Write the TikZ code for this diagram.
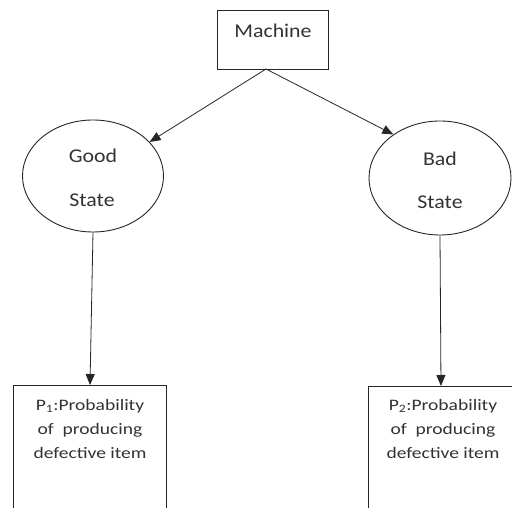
\documentclass[tikz,border=0pt]{standalone}
\usepackage{fontspec}
\setmainfont{Carlito}
\usetikzlibrary{shapes.geometric,arrows.meta,calc}
\begin{document}
\begin{tikzpicture}[x=1pt,y=-1pt,
  every node/.style={font=\fontsize{19.5}{26}\selectfont\addfontfeature{FakeStretch=1.12}, inner sep=0pt, text=black!80},
  small/.style={font=\fontsize{16}{24}\selectfont\addfontfeature{FakeStretch=1.22}},
  boxed/.style={draw=black!85, line width=0.9pt, rectangle},
  oval/.style={draw=black!85, line width=0.9pt, ellipse},
  arr/.style={draw=black!85, line width=0.8pt, -{Triangle[length=11pt,width=9pt]}}]
\clip (0,0) rectangle (512,508);
\fill[white] (0,0) rectangle (512,508);
\node[boxed, minimum width=111pt, minimum height=59pt] (machine) at (272.5,39.5) {};
\node (mtext) at (273,31) {Machine};
\node[oval, minimum width=141pt, minimum height=112pt] (good) at (93,176) {};
\node (goodt1) at (93,156) {Good};
\node (goodt2) at (92,200) {State};
\node[oval, minimum width=142pt, minimum height=114pt] (bad) at (440,178) {};
\node (badt1) at (440,159) {Bad};
\node (badt2) at (440,202) {State};
\node[boxed, minimum width=153pt, minimum height=160pt, anchor=north west] (p1box) at (13,385) {};
\node[boxed, minimum width=153pt, minimum height=160pt, anchor=north west] (p2box) at (368,386) {};
\node[small, align=center, anchor=north] (p1text) at (90,399) {P\textsubscript{1}:Probability\\of\ \ producing\\defective item};
\node[small, align=center, anchor=north] (p2text) at (443,399) {P\textsubscript{2}:Probability\\of\ \ producing\\defective item};
\coordinate (mb) at (266,69);
\draw[arr] (mb) -- (good.31);
\draw[arr] (mb) -- (bad.137);
\draw[arr] (good.south) -- (p1box.north -| 90,0);
\draw[arr] (bad.south) -- ($(p2box.north west)+(73,0)$);
\end{tikzpicture}
\end{document}
